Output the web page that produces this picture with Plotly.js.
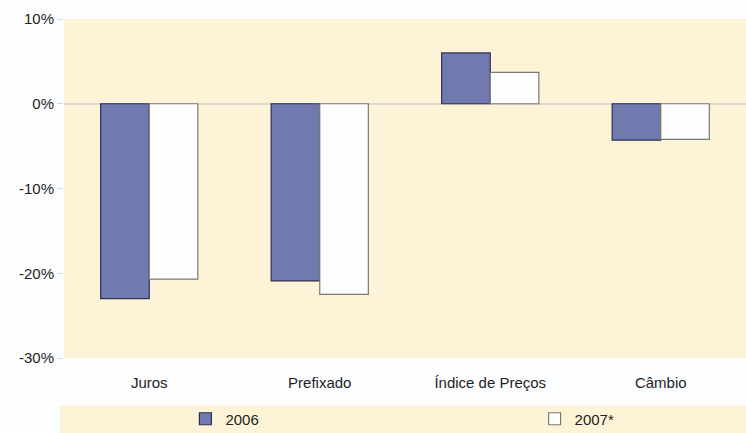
<!DOCTYPE html>
<html>
<head>
<meta charset="utf-8">
<script src="https://cdn.plot.ly/plotly-3.0.1.min.js"></script>
<style>
  html, body { margin: 0; padding: 0; background: #fcfdfe; }
  #chart { width: 746px; height: 433px; }
</style>
</head>
<body>
<div id="chart"></div>
<script>
// Variação por fator de risco (%)
const categories = ['Juros', 'Prefixado', 'Índice de Preços', 'Câmbio'];
const values2006 = [-23.0, -20.9, 6.0, -4.3];
const values2007 = [-20.7, -22.5, 3.7, -4.2];
const seriesNames = ['2006', '2007*'];
const yTickVals = [10, 0, -10, -20, -30];
const yTickText = ['10%', '0%', '-10%', '-20%', '-30%'];

const beige = '#fdf4d8';
const fontFamily = 'Liberation Sans, Arial, sans-serif';
const textFont = { family: fontFamily, size: 15, color: '#1e1e1e' };

const traces = [
  {
    type: 'bar',
    name: seriesNames[0],
    x: categories,
    y: values2006,
    legend: 'legend',
    marker: { color: '#717aaf', line: { color: '#2e3050', width: 1.2 } }
  },
  {
    type: 'bar',
    name: seriesNames[1],
    x: categories,
    y: values2007,
    legend: 'legend2',
    marker: { color: '#fdfeff', line: { color: '#7a7a72', width: 1.2 } }
  }
];

// one legend box per series so each entry sits at its own spot in the band
const legendBase = {
  orientation: 'h',
  xanchor: 'left',
  y: -0.18,
  yanchor: 'middle',
  itemwidth: 30,
  bgcolor: 'rgba(0,0,0,0)',
  font: textFont
};

const layout = {
  width: 746,
  height: 433,
  margin: { l: 64, r: 0, t: 19, b: 75, autoexpand: false },
  paper_bgcolor: '#fcfdfe',
  plot_bgcolor: beige,
  font: textFont,
  barmode: 'group',
  bargap: 0.43,
  bargroupgap: 0,
  showlegend: true,
  legend: Object.assign({}, legendBase, { x: 0.178 }),
  legend2: Object.assign({}, legendBase, { x: 0.69 }),
  xaxis: {
    type: 'category',
    showline: false,
    showgrid: false,
    zeroline: false,
    ticks: '',
    tickfont: textFont,
    ticklabelstandoff: 14
  },
  yaxis: {
    range: [-30, 10],
    tickvals: yTickVals,
    ticktext: yTickText,
    showgrid: false,
    zeroline: true,
    zerolinecolor: '#e2d7cc',
    zerolinewidth: 1.5,
    showline: false,
    ticks: 'outside',
    ticklen: 6,
    tickcolor: '#ddd6d0',
    tickfont: textFont
  },
  shapes: [
    {
      type: 'rect',
      xref: 'paper', yref: 'paper',
      x0: -0.006, x1: 1.01,
      y0: -0.14, y1: -0.25,
      fillcolor: beige,
      line: { width: 0 },
      layer: 'below'
    }
  ]
};

Plotly.newPlot('chart', traces, layout, { displayModeBar: false, staticPlot: true });
</script>
</body>
</html>
